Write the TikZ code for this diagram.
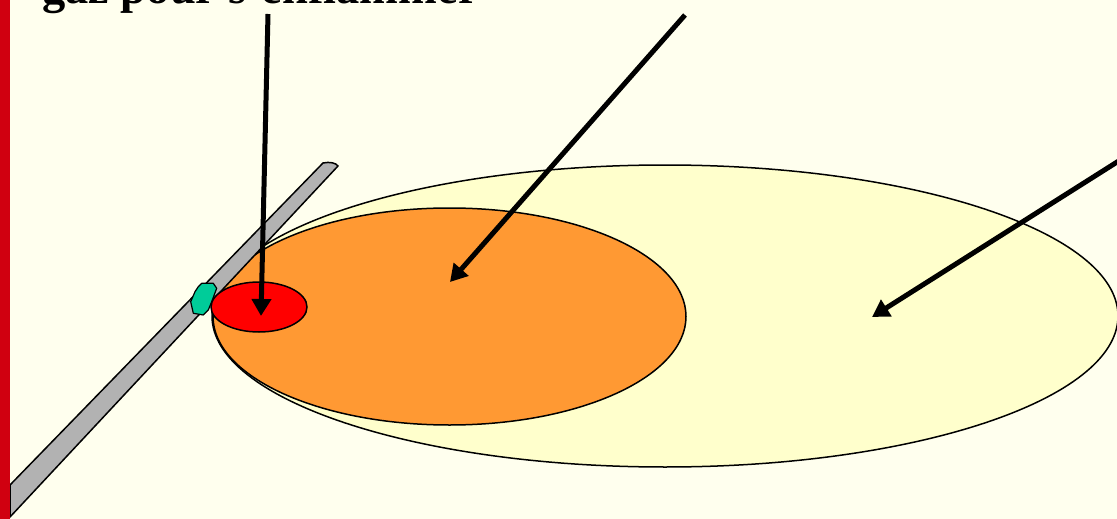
\documentclass[tikz,border=0pt]{standalone}
\usepackage{fontspec}
\setmainfont{Liberation Serif}
\usetikzlibrary{arrows.meta}
\definecolor{bgc}{RGB}{255,255,238}
\definecolor{zoneY}{RGB}{255,255,204}
\definecolor{zoneO}{RGB}{255,153,51}
\definecolor{zoneR}{RGB}{255,0,0}
\definecolor{leakG}{RGB}{0,204,153}
\definecolor{pipeG}{RGB}{178,178,178}
\definecolor{barR}{RGB}{208,0,16}
\tikzset{
  zone/.style={draw=black, line width=1.5pt},
  callout/.style={draw=black, line width=5pt, -{Triangle[length=17pt,width=19pt]}},
  label/.style={font=\fontsize{46.5}{50}\selectfont\bfseries, inner sep=0pt, anchor=base west}
}
\begin{document}
\begin{tikzpicture}[x=1pt,y=-1pt]
\useasboundingbox (0,0) rectangle (1117,519);
\clip (0,0) rectangle (1117,519);
\fill[bgc] (0,0) rectangle (1117,519);
% zones
\draw[zone, fill=zoneY] (665,316) ellipse [x radius=453, y radius=151];
\draw[zone, fill=zoneO] (449.5,316.5) ellipse [x radius=236.5, y radius=108.5];
% pipe
\draw[line width=1.5pt, fill=pipeG, line join=round]
  (10,485) -- (323,163) .. controls (330,161.5) and (336,163) .. (338,166) -- (10,517) -- cycle;
% leak
\draw[line width=1.2pt, fill=leakG, line join=round]
  (201.7,283.3) -- (213.3,283.3) -- (216.7,288.3) -- (211.7,301.7) -- (208.3,310)
  -- (203.3,315) -- (193.3,313.3) -- (190.7,301.7) -- (195,291.7) -- (198.3,286.7) -- cycle;
% ignition zone
\draw[zone, fill=zoneR] (259,307) ellipse [x radius=48, y radius=25];
% left bar
\fill[barR] (0,0) rectangle (10,519);
% text
\node[label] (txt) at (42,3.5) {gaz pour s'enflammer};
% arrow anchors
\coordinate (a1s) at (268,14);
\coordinate (a1e) at (261,316);
\coordinate (a2s) at (685,15);
\coordinate (a2e) at (450,282);
\coordinate (a3s) at (1125,157);
\coordinate (a3e) at (872,317);
\draw[callout] (a1s) -- (a1e);
\draw[callout] (a2s) -- (a2e);
\draw[callout] (a3s) -- (a3e);
\end{tikzpicture}
\end{document}
